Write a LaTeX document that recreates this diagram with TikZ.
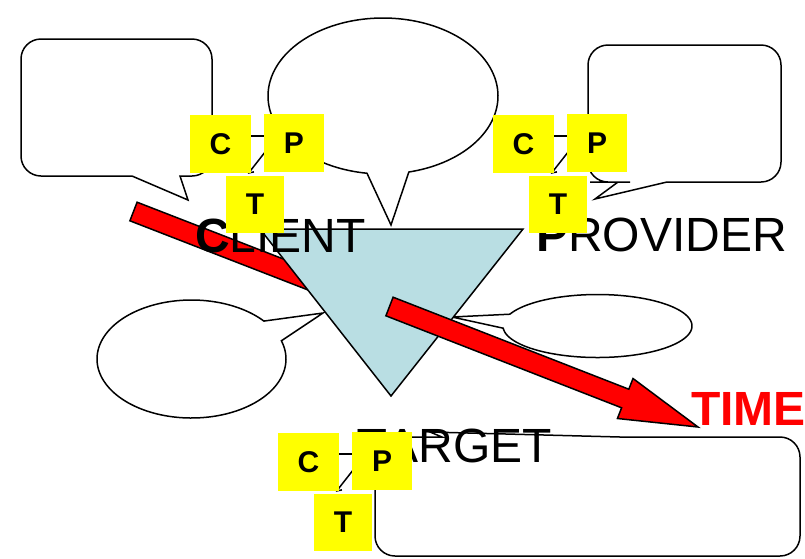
\documentclass[tikz,border=0pt]{standalone}
\usepackage{fontspec}
\setmainfont{Liberation Sans}
\usetikzlibrary{arrows.meta}
\pgfdeclarelayer{front}
\pgfsetlayers{main,front}
\definecolor{tri}{RGB}{185,222,227}
\definecolor{ylw}{RGB}{255,255,0}
\definecolor{redarrow}{RGB}{255,0,0}
\tikzset{
  callout/.style={draw=black, fill=white, line width=1.5pt, line join=miter},
  redshape/.style={draw=black, fill=redarrow, line width=1.5pt, line join=miter},
  trishape/.style={draw=black, fill=tri, line width=1.5pt, line join=miter},
  ybox/.style={fill=ylw, inner sep=0pt, font=\fontsize{30}{36}\selectfont\bfseries},
  biglabel/.style={anchor=base west, inner sep=0pt, font=\fontsize{48}{58}\selectfont},
  conn/.style={draw=black, line width=1.5pt},
}
\newcommand\cptgroup[3]{%
  \begin{scope}[shift={(#2,#3)}, name prefix=#1-]
    \begin{pgfonlayer}{front}
      \node[ybox,minimum width=61pt,minimum height=58pt] (C) at (30.5,29) {C};
      \node[ybox,minimum width=60pt,minimum height=58pt] (P) at (104,28) {P};
      \node[ybox,minimum width=58pt,minimum height=57pt] (T) at (65,89.5) {T};
    \end{pgfonlayer}
    \draw[conn] ([yshift=8pt]C.east) -- ([yshift=8pt]C.east -| P.west);
    \draw[conn,-{Straight Barb[length=4pt,width=7pt]}] ([xshift=6pt,yshift=-3pt]P.west) -- ([xshift=-7pt,yshift=2pt]T.north);
  \end{scope}}
\begin{document}
\begin{tikzpicture}[x=1pt,y=-1pt]
\useasboundingbox (0,0) rectangle (805,558);
% callouts
\draw[callout] (132,176) -- (188,200) -- (180,176) -- (186,176) [rounded corners=20pt] -- (212,176) -- (212,39) -- (21,39) -- (21,176) -- (100,176) [sharp corners] -- cycle;
\draw[callout] plot[domain=98:437,samples=150] ({383+115*cos(\x)},{96+78*sin(\x)}) -- (391,225) -- cycle;
\draw[callout] (618,182) -- (595,199) -- (667,182) -- (672,182) [rounded corners=20pt] -- (781,182) -- (781,45) -- (588,45) -- (588,182) -- (610,182) [sharp corners] -- cycle;
\draw[callout] plot[domain=-18:320,samples=150] ({191.5+94.5*cos(\x)},{359+59*sin(\x)}) -- (323,313) -- cycle;
\draw[callout] plot[domain=202:536,samples=150] ({597.5+94.5*cos(\x)},{326+31.5*sin(\x)}) -- (452,317) -- cycle;
% red bar behind triangle
\draw[redshape] (137.1,202.2) -- (342.1,281.8) -- (334.9,300.4) -- (129.9,220.8) -- cycle;
% triangle
\draw[trishape] (260,229) -- (523,229) -- (391,396) -- cycle;
% labels
\node[biglabel] (client) at (195,252) {\textbf{C}LIENT};
\node[biglabel] (provider) at (536,251) {\textbf{P}ROVIDER};
% red arrow
\draw[redshape] (393.1,297.2) -- (628.8,389.2) -- (633.0,378.5) -- (698,427) -- (617.4,418.5) -- (621.6,407.8) -- (385.9,315.8) -- cycle;
% bottom callout
\draw[callout] (442,437) -- (430,432) -- (620,437) -- (626,437) [rounded corners=20pt] -- (800,437) -- (800,556) -- (375,556) -- (375,437) -- (420,437) [sharp corners] -- cycle;
\node[biglabel] (target) at (357,462) {\textbf{T}ARGET};
\node[biglabel, text=redarrow, font=\fontsize{48}{58}\selectfont\bfseries] (time) at (691,425) {TIME};
% C-P-T groups
\cptgroup{g1}{190}{115}
\cptgroup{g2}{493}{115}
\cptgroup{g3}{278}{433}
\end{tikzpicture}
\end{document}
